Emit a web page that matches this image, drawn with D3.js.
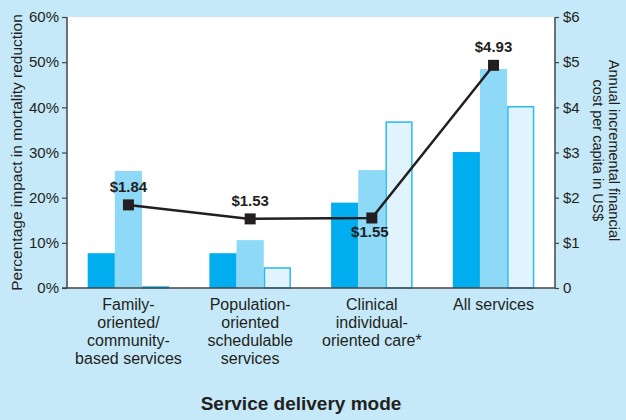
<!DOCTYPE html>
<html><head><meta charset="utf-8">
<script src="https://cdn.jsdelivr.net/npm/d3@7/dist/d3.min.js"></script>
<style>
html,body{margin:0;padding:0;background:#C6E9F9;}
svg{display:block;font-family:"Liberation Sans",Arial,sans-serif;}
</style></head>
<body>
<svg id="chart" width="626" height="420"></svg>
<script>
const categories = ["Family-oriented/community-based services","Population-oriented schedulable services","Clinical individual-oriented care*","All services"];
const categoryLines = [["Family-","oriented/","community-","based services"],["Population-","oriented","schedulable","services"],["Clinical","individual-","oriented care*"],["All services"]];
const seriesNames = ["s1","s2","s3"];
const seriesA = [7.7, 7.7, 18.9, 30.1];
const seriesB = [25.9, 10.6, 26.1, 48.5];
const seriesC = [0.4, 4.6, 36.9, 40.3];
const costValues = [1.84, 1.53, 1.55, 4.93];
const costLabels = ["$1.84","$1.53","$1.55","$4.93"];
const leftTicks = [0,10,20,30,40,50,60];
const leftTickLabels = ["0%","10%","20%","30%","40%","50%","60%"];
const rightTicks = [0,1,2,3,4,5,6];
const rightTickLabels = ["0","$1","$2","$3","$4","$5","$6"];

const svg = d3.select("#chart");
const L = 67, R = 555, T = 17, B = 288;
const ink = "#231f20";
const fills = ["#00AEEF","#8ED8F8","#E1F3FC"];

svg.append("rect").attr("x",L).attr("y",T).attr("width",R-L).attr("height",B-T).attr("fill","#fff");

const x = d3.scaleBand().domain(categories).range([L,R]).paddingInner(0.33).paddingOuter(0.17);
const xs = d3.scaleBand().domain(seriesNames).range([0,x.bandwidth()]);
const yL = d3.scaleLinear().domain([0,60]).range([B,T]);
const yR = d3.scaleLinear().domain([0,6]).range([B,T]);

const allSeries = [seriesA, seriesB, seriesC];
allSeries.forEach((vals,si)=>{
  svg.append("g").selectAll("rect").data(vals).join("rect")
    .attr("x",(d,i)=>x(categories[i])+xs(seriesNames[si]) + (si===2?0.75:0))
    .attr("width",xs.bandwidth() - (si===2?1.5:0))
    .attr("y",d=>yL(d) + (si===2?0.75:0))
    .attr("height",d=>Math.max(0,B-yL(d) - (si===2?0.75:0)))
    .attr("fill",fills[si])
    .attr("stroke",si===2?"#2BB9EE":"none")
    .attr("stroke-width",1.5);
});

// axes
const axL = svg.append("g").attr("transform",`translate(${L},0)`)
  .call(d3.axisLeft(yL).tickValues(leftTicks).tickFormat((d,i)=>leftTickLabels[i]).tickSize(5).tickPadding(3));
const axR = svg.append("g").attr("transform",`translate(${R},0)`)
  .call(d3.axisRight(yR).tickValues(rightTicks).tickFormat((d,i)=>rightTickLabels[i]).tickSize(4).tickPadding(4));
[axL,axR].forEach(a=>{
  a.select(".domain").remove();
  a.selectAll(".tick line").attr("stroke","#444").attr("stroke-width",1.2);
  a.selectAll("text").attr("fill",ink).attr("font-size",15).attr("font-family","Liberation Sans, Arial, sans-serif");
});
svg.append("line").attr("x1",L).attr("x2",L).attr("y1",T).attr("y2",B).attr("stroke","#444").attr("stroke-width",1.5);
svg.append("line").attr("x1",R).attr("x2",R).attr("y1",T).attr("y2",B).attr("stroke","#444").attr("stroke-width",1.5);
svg.append("line").attr("x1",L-5).attr("x2",R).attr("y1",B).attr("y2",B).attr("stroke","#444").attr("stroke-width",1.5);

// line
const cx = (i)=>x(categories[i])+x.bandwidth()/2;
svg.append("path").datum(costValues)
  .attr("d",d3.line().x((d,i)=>cx(i)).y(d=>yR(d)))
  .attr("fill","none").attr("stroke",ink).attr("stroke-width",2.5);
svg.append("g").selectAll("rect").data(costValues).join("rect")
  .attr("x",(d,i)=>cx(i)-5.5).attr("y",d=>yR(d)-5.5)
  .attr("width",11).attr("height",11).attr("fill",ink);
svg.append("g").selectAll("text").data(costValues).join("text")
  .attr("x",(d,i)=>cx(i) + (i===2?-2:0))
  .attr("y",(d,i)=>yR(d) + (i===2?19:-13))
  .attr("text-anchor","middle").attr("font-weight","bold").attr("font-size",15).attr("fill",ink)
  .text((d,i)=>costLabels[i]);

// category labels
categoryLines.forEach((lines,i)=>{
  const t = svg.append("text").attr("text-anchor","middle").attr("font-size",16).attr("fill",ink);
  lines.forEach((ln,j)=>{
    t.append("tspan").attr("x",cx(i)).attr("y",310+j*18).text(ln);
  });
});

// axis titles
svg.append("text").attr("x",301).attr("y",410).attr("text-anchor","middle")
  .attr("font-weight","bold").attr("font-size",19).attr("fill",ink).text("Service delivery mode");
svg.append("text").attr("transform",`translate(21.5,${(T+B)/2}) rotate(-90)`)
  .attr("text-anchor","middle").attr("font-size",15.5).attr("fill",ink)
  .text("Percentage impact in mortality reduction");
const rt = svg.append("text").attr("transform",`translate(609,${(T+B)/2 - 2}) rotate(90)`)
  .attr("text-anchor","middle").attr("font-size",14.5).attr("fill",ink);
rt.append("tspan").attr("x",0).attr("y",0).text("Annual incremental financial");
rt.append("tspan").attr("x",0).attr("y",16).text("cost per capita in US$");
</script>
</body></html>
